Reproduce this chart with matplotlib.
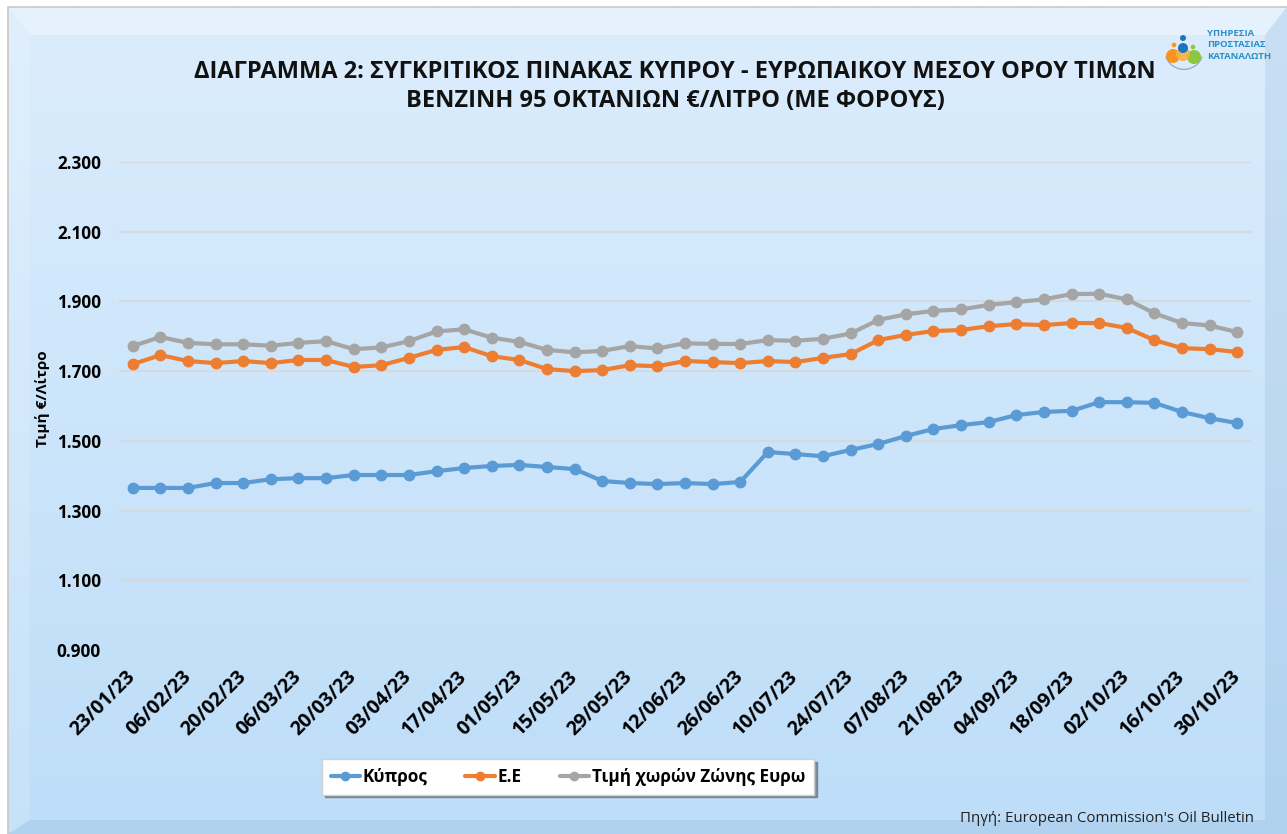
import matplotlib
matplotlib.use("Agg")
import matplotlib.pyplot as plt
import numpy as np
from matplotlib.patches import Polygon, Circle, Wedge

# ---------------- data ----------------
dates = ["23/01/23", "30/01/23", "06/02/23", "13/02/23", "20/02/23", "27/02/23", "06/03/23",
         "13/03/23", "20/03/23", "27/03/23", "03/04/23", "10/04/23", "17/04/23", "24/04/23",
         "01/05/23", "08/05/23", "15/05/23", "22/05/23", "29/05/23", "05/06/23", "12/06/23",
         "19/06/23", "26/06/23", "03/07/23", "10/07/23", "17/07/23", "24/07/23", "31/07/23",
         "07/08/23", "14/08/23", "21/08/23", "28/08/23", "04/09/23", "11/09/23", "18/09/23",
         "25/09/23", "02/10/23", "09/10/23", "16/10/23", "23/10/23", "30/10/23"]

cyprus = [1.365, 1.365, 1.365, 1.379, 1.379, 1.390, 1.393, 1.393, 1.402, 1.402, 1.402,
          1.413, 1.422, 1.428, 1.431, 1.425, 1.419, 1.385, 1.379, 1.376, 1.379, 1.376,
          1.382, 1.468, 1.462, 1.456, 1.474, 1.491, 1.514, 1.534, 1.545, 1.554, 1.574,
          1.583, 1.586, 1.611, 1.611, 1.609, 1.583, 1.565, 1.551]

eu = [1.720, 1.746, 1.729, 1.723, 1.729, 1.723, 1.732, 1.732, 1.712, 1.717, 1.738,
      1.761, 1.769, 1.743, 1.732, 1.706, 1.700, 1.703, 1.717, 1.714, 1.729, 1.726,
      1.723, 1.729, 1.726, 1.738, 1.749, 1.789, 1.804, 1.815, 1.818, 1.829, 1.835,
      1.832, 1.838, 1.838, 1.824, 1.789, 1.766, 1.763, 1.755]

eurozone = [1.772, 1.798, 1.781, 1.777, 1.777, 1.773, 1.781, 1.786, 1.763, 1.768, 1.786,
            1.814, 1.820, 1.796, 1.784, 1.761, 1.754, 1.758, 1.772, 1.765, 1.780, 1.778,
            1.778, 1.789, 1.787, 1.793, 1.808, 1.847, 1.863, 1.873, 1.877, 1.890, 1.898,
            1.906, 1.921, 1.922, 1.906, 1.866, 1.838, 1.831, 1.812]

series_names = ["Κύπρος", "Ε.Ε", "Τιμή χωρών Ζώνης Ευρω"]
series_colors = ["#5b9bd5", "#ed7d31", "#a5a5a5"]
yticks = [0.9, 1.1, 1.3, 1.5, 1.7, 1.9, 2.1, 2.3]
ytick_labels = ["0.900", "1.100", "1.300", "1.500", "1.700", "1.900", "2.100", "2.300"]

title1 = "ΔΙΑΓΡΑΜΜΑ 2: ΣΥΓΚΡΙΤΙΚΟΣ ΠΙΝΑΚΑΣ ΚΥΠΡΟΥ - ΕΥΡΩΠΑΙΚΟΥ ΜΕΣΟΥ ΟΡΟΥ ΤΙΜΩΝ"
title2 = "ΒΕΝΖΙΝΗ 95 ΟΚΤΑΝΙΩΝ €/ΛΙΤΡΟ (ΜΕ ΦΟΡΟΥΣ)"
ylabel = "Τιμή €/Λίτρο"
source = "Πηγή: European Commission's Oil Bulletin"
logo_lines = ["ΥΠΗΡΕΣΙΑ", "ΠΡΟΣΤΑΣΙΑΣ", "ΚΑΤΑΝΑΛΩΤΗ"]

plt.rcParams['font.family'] = ['Open Sans', 'DejaVu Sans']

W, H = 1287, 834
fig = plt.figure(figsize=(W / 100, H / 100), dpi=100)
fig.patch.set_facecolor("white")

# ---------------- background (pixel coords) ----------------
bg = fig.add_axes([0, 0, 1, 1], zorder=-10)
bg.set_xlim(0, W)
bg.set_ylim(H, 0)
bg.axis("off")
top_c = np.array([220, 237, 253]) / 255
bot_c = np.array([189, 221, 248]) / 255
t = np.linspace(0, 1, 256)[:, None, None]
grad = top_c[None, None, :] * (1 - t) + bot_c[None, None, :] * t
bg.imshow(grad, extent=(8, W, H, 7), aspect="auto", interpolation="bilinear")
# frame line
bg.plot([8, 8, W], [H, 7, 7], color="#c8c8c8", lw=1.2)
# bevels
bev = 22
bg.add_patch(Polygon([(8, 7), (W, 7), (W - bev, 7 + 28), (8 + bev, 7 + 28)],
                     closed=True, facecolor="white", alpha=0.3, edgecolor="none"))
bg.add_patch(Polygon([(8, 7), (8 + bev, 7 + 28), (8 + bev, H - 14), (8, H)],
                     closed=True, facecolor="white", alpha=0.15, edgecolor="none"))
bg.add_patch(Polygon([(8, H), (8 + bev, H - 14), (W - bev, H - 14), (W, H)],
                     closed=True, facecolor="#7fa9cf", alpha=0.2, edgecolor="none"))
bg.add_patch(Polygon([(W, 7), (W, H), (W - bev, H - 14), (W - bev, 7 + 28)],
                     closed=True, facecolor="#7fa9cf", alpha=0.2, edgecolor="none"))

# logo
bg.add_patch(Wedge((1184, 50), 20, 20, 160, width=1.2, facecolor="#9aa5b1", edgecolor="none"))
bg.add_patch(Circle((1173, 56), 7, facecolor="#f7941d", edgecolor="none"))
bg.add_patch(Circle((1194, 57), 7, facecolor="#8dc63f", edgecolor="none"))
bg.add_patch(Circle((1183, 54), 7, facecolor="#fbb040", edgecolor="none", alpha=0.9))
bg.add_patch(Circle((1183, 48), 5, facecolor="#1c75bc", edgecolor="none"))
bg.add_patch(Circle((1183, 38), 3, facecolor="#1c75bc", edgecolor="none"))
bg.add_patch(Circle((1174, 45), 2.3, facecolor="#f7941d", edgecolor="none"))
bg.add_patch(Circle((1193, 47), 2.3, facecolor="#8dc63f", edgecolor="none"))
for i, ln in enumerate(logo_lines):
    bg.text(1207, 33 + i * 11.5, ln, fontsize=6.8, color="#2a8fc9", ha="left", va="center",
            fontweight="bold")

# titles
bg.text(675, 72, title1, fontsize=17, fontweight="bold", ha="center", va="center", color="#111111")
bg.text(675, 101, title2, fontsize=17, fontweight="bold", ha="center", va="center", color="#111111")
bg.text(1254, 818, source, fontsize=10.8, ha="right", va="center", color="#222222")
bg.text(42, 399, ylabel, fontsize=11, fontweight="bold", rotation=90, ha="center", va="center")

# ---------------- main axes ----------------
ax = fig.add_axes([119 / W, 1 - 650 / H, (1251 - 119) / W, (650 - 162) / H])
ax.set_facecolor("none")
x = np.arange(len(dates))
for vals, name, col in zip([cyprus, eu, eurozone], series_names, series_colors):
    ax.plot(x, vals, color=col, lw=3, marker="o", markersize=7.5, label=name,
            solid_capstyle="round", zorder=3)

ax.set_xlim(-0.5, len(dates) - 0.5)
ax.set_ylim(0.9, 2.3)
ax.set_yticks(yticks)
ax.set_yticklabels(ytick_labels, fontsize=12.3, fontweight="bold")
ax.set_xticks(x[::2])
ax.set_xticklabels(dates[::2], rotation=45, rotation_mode="anchor", ha="right", va="center",
                   fontsize=14, fontweight="bold")
ax.tick_params(axis="both", length=0)
ax.tick_params(axis="y", pad=13)
ax.tick_params(axis="x", pad=17)
ax.grid(axis="y", color="#d6d9dc", lw=1.5, zorder=0)
for s in ax.spines.values():
    s.set_visible(False)

leg = fig.legend(loc="center", bbox_to_anchor=(568 / W, 1 - 777 / H), ncol=3,
                 frameon=True, fancybox=False, shadow=True,
                 handlelength=1.7, columnspacing=2.2, handletextpad=0.2, borderpad=0.5,
                 prop={"weight": "bold", "size": 12.3})
leg.get_frame().set_facecolor("white")
leg.get_frame().set_edgecolor("#d0d0d0")
for h in leg.legend_handles:
    h.set_markersize(6)

fig.savefig("out.png", dpi=100)
